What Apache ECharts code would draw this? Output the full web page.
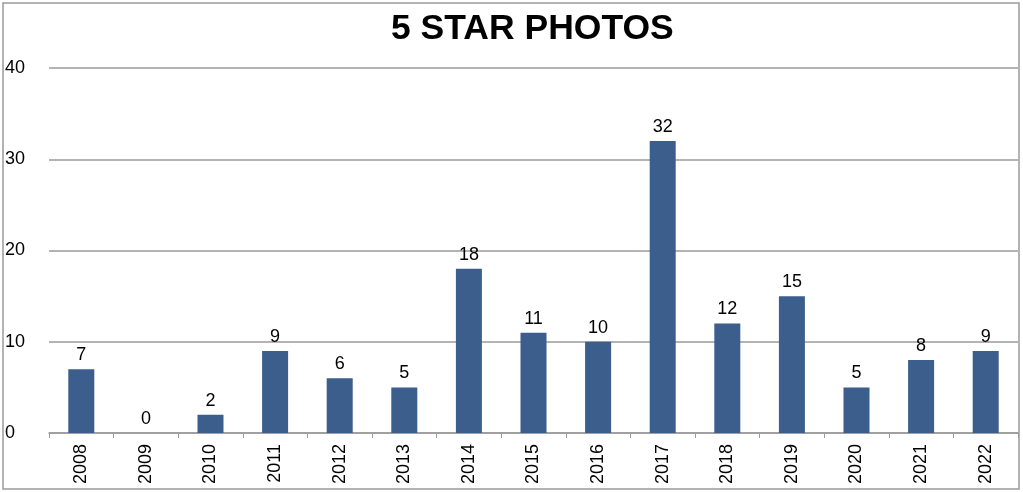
<!DOCTYPE html>
<html>
<head>
<meta charset="utf-8">
<script src="https://cdn.jsdelivr.net/npm/echarts@6/dist/echarts.min.js"></script>
<style>html,body{margin:0;padding:0;background:#fff;}#c{width:1023px;height:492px;}</style>
</head>
<body>
<div id="c"></div>
<script>
const categories = ['2008','2009','2010','2011','2012','2013','2014','2015','2016','2017','2018','2019','2020','2021','2022'];
const values = [7,0,2,9,6,5,18,11,10,32,12,15,5,8,9];
const yTicks = [0,10,20,30,40];

const chart = echarts.init(document.getElementById('c'));
const font = 'Liberation Sans, Arial, Helvetica, sans-serif';
chart.setOption({
  animation: false,
  backgroundColor: '#fff',
  title: {
    text: '5 STAR PHOTOS',
    left: 386,
    top: 6,
    textStyle: { fontFamily: font, fontWeight: 'bold', fontSize: 35.5, color: '#000' }
  },
  graphic: [{
    type: 'rect',
    shape: { x: 3, y: 3, width: 1016, height: 486 },
    style: { fill: 'none', stroke: '#9a9a9a', lineWidth: 1.5 },
    z: 100
  }],
  grid: { left: 49, right: 5, top: 68, bottom: 59, containLabel: false },
  xAxis: {
    type: 'category',
    data: categories,
    axisLine: { lineStyle: { color: '#9a9a9a', width: 1.5 } },
    axisTick: { show: true, alignWithLabel: false, length: 5, lineStyle: { color: '#9a9a9a' } },
    axisLabel: { rotate: 90, margin: 11, fontFamily: font, fontSize: 18, color: '#000', interval: 0 }
  },
  yAxis: {
    type: 'value',
    min: yTicks[0],
    max: yTicks[yTicks.length - 1],
    interval: 10,
    axisLine: { show: false },
    axisTick: { show: false },
    splitLine: { lineStyle: { color: '#9a9a9a', width: 1.5 } },
    axisLabel: { align: 'left', margin: 44, fontFamily: font, fontSize: 18, color: '#000' }
  },
  series: [{
    type: 'bar',
    data: values,
    barWidth: 26,
    itemStyle: { color: '#3b5e8c' },
    label: { show: true, position: 'top', distance: 5, fontFamily: font, fontSize: 18, color: '#000' }
  }]
});
</script>
</body>
</html>
